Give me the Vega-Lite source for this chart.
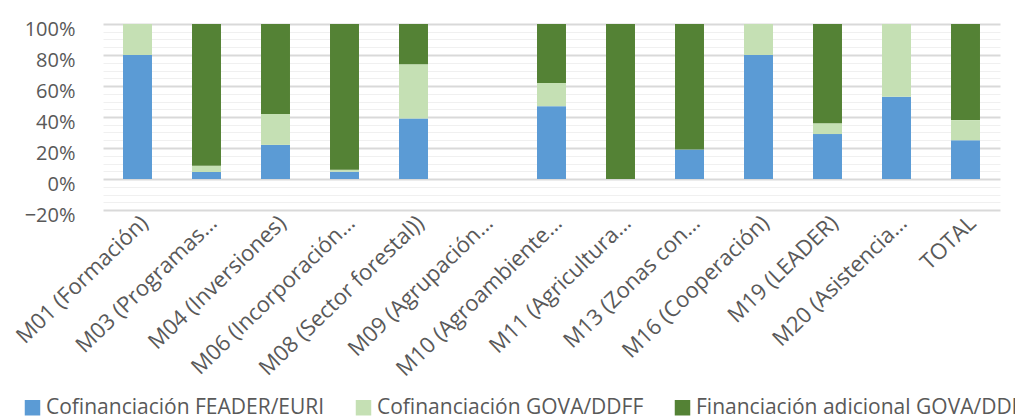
{
  "$schema": "https://vega.github.io/schema/vega-lite/v6.json",
  "autosize": {"type": "none"},
  "width": 897,
  "height": 186,
  "padding": {"left": 103, "top": 24, "right": 15, "bottom": 209},
  "background": "white",
  "config": {
    "font": "Open Sans, sans-serif",
    "view": {"stroke": null}
  },
  "data": {
    "values": [
      {"cat": "M01 (Formación)", "serie": "Cofinanciación FEADER/EURI", "o": 1, "v": 0.80},
      {"cat": "M01 (Formación)", "serie": "Cofinanciación GOVA/DDFF", "o": 2, "v": 0.20},
      {"cat": "M01 (Formación)", "serie": "Financiación adicional GOVA/DDFF", "o": 3, "v": 0.0},
      {"cat": "M03 (Programas…", "serie": "Cofinanciación FEADER/EURI", "o": 1, "v": 0.045},
      {"cat": "M03 (Programas…", "serie": "Cofinanciación GOVA/DDFF", "o": 2, "v": 0.04},
      {"cat": "M03 (Programas…", "serie": "Financiación adicional GOVA/DDFF", "o": 3, "v": 0.915},
      {"cat": "M04 (Inversiones)", "serie": "Cofinanciación FEADER/EURI", "o": 1, "v": 0.22},
      {"cat": "M04 (Inversiones)", "serie": "Cofinanciación GOVA/DDFF", "o": 2, "v": 0.20},
      {"cat": "M04 (Inversiones)", "serie": "Financiación adicional GOVA/DDFF", "o": 3, "v": 0.58},
      {"cat": "M06 (Incorporación…", "serie": "Cofinanciación FEADER/EURI", "o": 1, "v": 0.047},
      {"cat": "M06 (Incorporación…", "serie": "Cofinanciación GOVA/DDFF", "o": 2, "v": 0.013},
      {"cat": "M06 (Incorporación…", "serie": "Financiación adicional GOVA/DDFF", "o": 3, "v": 0.94},
      {"cat": "M08 (Sector forestal))", "serie": "Cofinanciación FEADER/EURI", "o": 1, "v": 0.39},
      {"cat": "M08 (Sector forestal))", "serie": "Cofinanciación GOVA/DDFF", "o": 2, "v": 0.35},
      {"cat": "M08 (Sector forestal))", "serie": "Financiación adicional GOVA/DDFF", "o": 3, "v": 0.26},
      {"cat": "M09 (Agrupación…", "serie": "Cofinanciación FEADER/EURI", "o": 1, "v": 0.0},
      {"cat": "M09 (Agrupación…", "serie": "Cofinanciación GOVA/DDFF", "o": 2, "v": 0.0},
      {"cat": "M09 (Agrupación…", "serie": "Financiación adicional GOVA/DDFF", "o": 3, "v": 0.0},
      {"cat": "M10 (Agroambiente…", "serie": "Cofinanciación FEADER/EURI", "o": 1, "v": 0.47},
      {"cat": "M10 (Agroambiente…", "serie": "Cofinanciación GOVA/DDFF", "o": 2, "v": 0.15},
      {"cat": "M10 (Agroambiente…", "serie": "Financiación adicional GOVA/DDFF", "o": 3, "v": 0.38},
      {"cat": "M11 (Agricultura…", "serie": "Cofinanciación FEADER/EURI", "o": 1, "v": 0.0},
      {"cat": "M11 (Agricultura…", "serie": "Cofinanciación GOVA/DDFF", "o": 2, "v": 0.0},
      {"cat": "M11 (Agricultura…", "serie": "Financiación adicional GOVA/DDFF", "o": 3, "v": 1.0},
      {"cat": "M13 (Zonas con…", "serie": "Cofinanciación FEADER/EURI", "o": 1, "v": 0.19},
      {"cat": "M13 (Zonas con…", "serie": "Cofinanciación GOVA/DDFF", "o": 2, "v": 0.0},
      {"cat": "M13 (Zonas con…", "serie": "Financiación adicional GOVA/DDFF", "o": 3, "v": 0.81},
      {"cat": "M16 (Cooperación)", "serie": "Cofinanciación FEADER/EURI", "o": 1, "v": 0.80},
      {"cat": "M16 (Cooperación)", "serie": "Cofinanciación GOVA/DDFF", "o": 2, "v": 0.20},
      {"cat": "M16 (Cooperación)", "serie": "Financiación adicional GOVA/DDFF", "o": 3, "v": 0.0},
      {"cat": "M19 (LEADER)", "serie": "Cofinanciación FEADER/EURI", "o": 1, "v": 0.29},
      {"cat": "M19 (LEADER)", "serie": "Cofinanciación GOVA/DDFF", "o": 2, "v": 0.07},
      {"cat": "M19 (LEADER)", "serie": "Financiación adicional GOVA/DDFF", "o": 3, "v": 0.64},
      {"cat": "M20 (Asistencia…", "serie": "Cofinanciación FEADER/EURI", "o": 1, "v": 0.53},
      {"cat": "M20 (Asistencia…", "serie": "Cofinanciación GOVA/DDFF", "o": 2, "v": 0.47},
      {"cat": "M20 (Asistencia…", "serie": "Financiación adicional GOVA/DDFF", "o": 3, "v": 0.0},
      {"cat": "TOTAL", "serie": "Cofinanciación FEADER/EURI", "o": 1, "v": 0.25},
      {"cat": "TOTAL", "serie": "Cofinanciación GOVA/DDFF", "o": 2, "v": 0.13},
      {"cat": "TOTAL", "serie": "Financiación adicional GOVA/DDFF", "o": 3, "v": 0.62}
    ]
  },
  "mark": {"type": "bar"},
  "encoding": {
    "x": {
      "field": "cat",
      "type": "nominal",
      "sort": null,
      "title": null,
      "scale": {"paddingInner": 0.58, "paddingOuter": 0.29},
      "axis": {
        "labelAngle": -44,
        "labelFontSize": 22,
        "labelColor": "#595959",
        "labelPadding": 2,
        "ticks": false,
        "domain": false,
        "labelLimit": 300
      }
    },
    "y": {
      "field": "v",
      "type": "quantitative",
      "stack": "zero",
      "title": null,
      "scale": {"domain": [-0.2, 1.0], "nice": false, "zero": false},
      "axis": {
        "format": ".0%",
        "values": [-0.2, -0.15, -0.1, -0.05, 0, 0.05, 0.1, 0.15, 0.2, 0.25, 0.3, 0.35, 0.4, 0.45, 0.5, 0.55, 0.6, 0.65, 0.7, 0.75, 0.8, 0.85, 0.9, 0.95, 1.0],
        "labelExpr": "round(datum.value*100) % 20 == 0 ? datum.label : ''",
        "labelFontSize": 20,
        "labelColor": "#595959",
        "labelPadding": 28,
        "labelOffset": 5,
        "ticks": false,
        "domain": false,
        "gridColor": {"condition": {"test": "round(datum.value*100) % 20 == 0", "value": "#d9d9d9"}, "value": "#f0f0f0"},
        "gridWidth": {"condition": {"test": "round(datum.value*100) % 20 == 0", "value": 2}, "value": 1}
      }
    },
    "order": {"field": "o", "type": "quantitative"},
    "color": {
      "field": "serie",
      "type": "nominal",
      "sort": ["Cofinanciación FEADER/EURI", "Cofinanciación GOVA/DDFF", "Financiación adicional GOVA/DDFF"],
      "scale": {
        "domain": ["Cofinanciación FEADER/EURI", "Cofinanciación GOVA/DDFF", "Financiación adicional GOVA/DDFF"],
        "range": ["#5B9BD5", "#C5E0B4", "#548235"]
      },
      "legend": {
        "title": null,
        "orient": "none",
        "legendX": -81,
        "legendY": 373,
        "direction": "horizontal",
        "symbolType": "square",
        "symbolSize": 240,
        "symbolStrokeWidth": 0,
        "labelFontSize": 21,
        "labelColor": "#595959",
        "labelLimit": 500,
        "labelOffset": 3,
        "columnPadding": 28,
        "symbolOffset": 0
      }
    }
  }
}
